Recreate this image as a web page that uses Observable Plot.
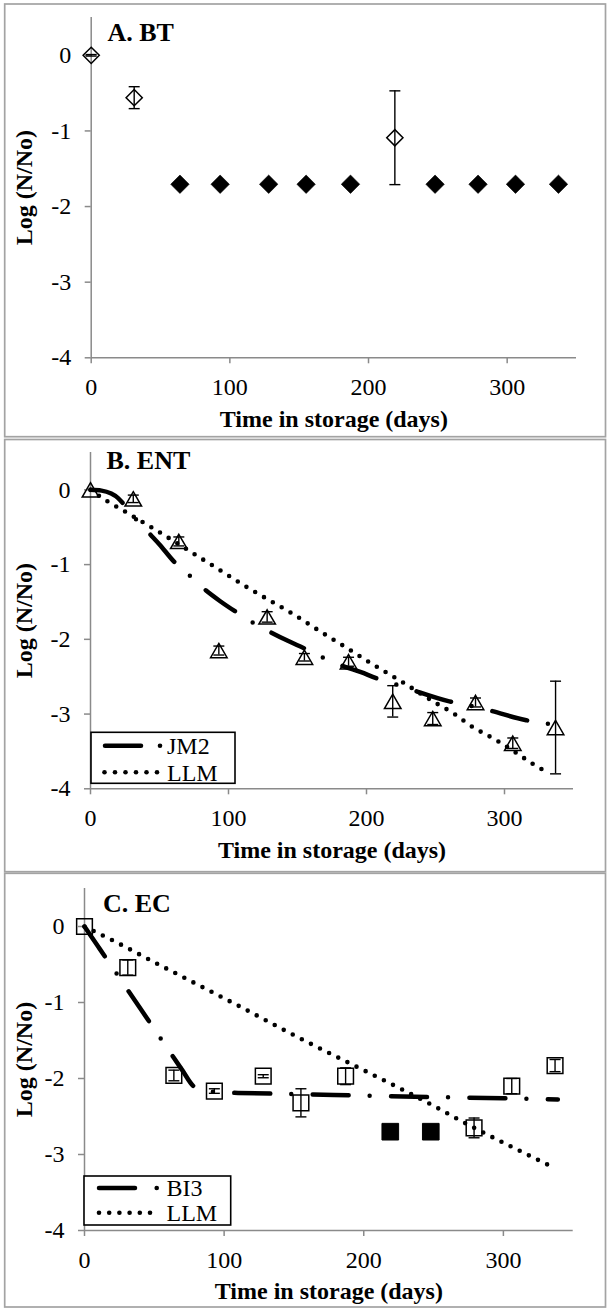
<!DOCTYPE html>
<html>
<head>
<meta charset="utf-8">
<script src="https://cdn.jsdelivr.net/npm/d3@7"></script>
<script src="https://cdn.jsdelivr.net/npm/@observablehq/plot@0.6"></script>
<style>
  body { margin: 0; background: #fff; }
  #page { position: relative; width: 610px; height: 1312px; overflow: hidden; background: #fff;
          font-family: "Liberation Serif", "Times New Roman", serif; }
  .panel { position: absolute; left: 0; }
  #overlay { position: absolute; left: 0; top: 0; pointer-events: none; }
</style>
</head>
<body>
<div id="page"></div>
<script>
// ---------------- data ----------------
const xTicks = [0, 100, 200, 300];
const yTicks = [0, -1, -2, -3, -4];

// Panel A: BT
const btDays = [0, 31, 219];
const btLog = [0, -0.56, -1.09];
const btErr = [0.01, 0.145, 0.62];
const btBelowDays = [64, 93, 128, 155, 187, 248, 279, 306, 337];
const btBelowLog = [-1.705, -1.705, -1.705, -1.705, -1.705, -1.705, -1.705, -1.705, -1.705];

// Panel B: ENT
const entDays = [0, 31, 64, 93, 128, 155, 187, 219, 248, 279, 306, 337];
const entLog = [0, -0.12, -0.69, -2.15, -1.70, -2.24, -2.30, -2.83, -3.06, -2.845, -3.39, -3.18];
const entErr = [0, 0.05, 0.06, 0.06, 0.07, 0.05, 0.06, 0.21, 0.08, 0.06, 0.07, 0.62];
const jm2Days = [0, 8, 15, 20, 24, 31, 43, 50, 60, 72, 82, 94, 106, 118, 130, 143, 156, 168, 182, 196, 207, 221, 233, 260, 273, 289, 315, 329, 337];
const jm2Log = [0, -0.01, -0.05, -0.11, -0.19, -0.35, -0.59, -0.73, -0.95, -1.15, -1.32, -1.49, -1.64, -1.78, -1.90, -2.02, -2.13, -2.24, -2.35, -2.44, -2.52, -2.60, -2.675, -2.83, -2.88, -2.95, -3.08, -3.12, -3.15];
const llmBDays = [0, 12, 25, 45, 71, 90, 115, 128, 144, 167, 187, 205, 225, 250, 263, 275, 295, 307, 320, 333];
const llmBLog = [0, -0.15, -0.29, -0.51, -0.81, -1.03, -1.32, -1.46, -1.63, -1.90, -2.13, -2.34, -2.56, -2.85, -2.99, -3.15, -3.36, -3.50, -3.66, -3.80];

// Panel C: EC
const ecDays = [0, 31, 64, 93, 128, 155, 187, 279, 306, 337];
const ecLog = [0, -0.54, -1.96, -2.165, -1.97, -2.32, -1.97, -2.65, -2.10, -1.83];
const ecErr = [0, 0.10, 0.07, 0.03, 0.02, 0.185, 0.11, 0.13, 0.10, 0.08];
const ecBelowDays = [219, 248];
const ecBelowLog = [-2.70, -2.70];
const bi3Days = [0, 10, 20, 30, 40, 50, 60, 70, 78, 85, 90, 100, 110, 150, 200, 250, 300, 339];
const bi3Log = [0, -0.27, -0.54, -0.81, -1.08, -1.35, -1.62, -1.89, -2.10, -2.155, -2.17, -2.185, -2.19, -2.205, -2.225, -2.245, -2.26, -2.275];
const llmCDays = [0, 21, 50, 80, 110, 150, 173, 190, 227, 250, 276, 305, 333];
const llmCLog = [0, -0.19, -0.47, -0.755, -1.04, -1.43, -1.645, -1.80, -2.14, -2.36, -2.62, -2.89, -3.145];

// ---------------- helpers ----------------
const zipPts = (xs, ys, es) => xs.map((x, i) => ({x, y: ys[i], e: es ? es[i] : 0}));
const capSymbol = { draw(ctx) { ctx.moveTo(-5.5, 0); ctx.lineTo(5.5, 0); } };
const FONT = '"Liberation Serif", "Times New Roman", serif';
const AXIS = "#8a8a8a";

const dashDot = "36,21,0,21.4";
const dotted = "0,10.2";

function errorMarks(pts, opts = {}) {
  const withErr = pts.filter(d => d.e > 0);
  return [
    Plot.ruleX(withErr, {x: "x", y1: d => d.y - d.e, y2: d => d.y + d.e, stroke: "black", strokeWidth: 1.4, ...opts}),
    Plot.dot(withErr, {x: "x", y: d => d.y - d.e, symbol: capSymbol, fill: "none", stroke: "black", strokeWidth: 1.4, ...opts}),
    Plot.dot(withErr, {x: "x", y: d => d.y + d.e, symbol: capSymbol, fill: "none", stroke: "black", strokeWidth: 1.4, ...opts})
  ];
}

function makePanel(cfg) {
  const {height, mt, mb, ml, mr, title, titleDx, titleDy, xLabelDy, marks} = cfg;
  return Plot.plot({
    width: 610,
    height,
    marginTop: mt, marginBottom: mb, marginLeft: ml, marginRight: mr,
    style: {fontFamily: FONT, fontSize: "24px", background: "transparent", overflow: "visible", color: "black"},
    x: {domain: [0, 350]},
    y: {domain: [-4, 0.5]},
    marks: [
      Plot.ruleX([0], {stroke: AXIS, strokeWidth: 1.5}),
      Plot.ruleY([-4], {stroke: AXIS, strokeWidth: 1.5}),
      Plot.axisX({ticks: xTicks, tickSize: 6, tickPadding: 14, stroke: AXIS, strokeWidth: 1.5, fill: "black",
                  fontSize: 24, label: null, tickFormat: d => String(d)}),
      Plot.axisY({ticks: yTicks, tickSize: 6, tickPadding: 14, stroke: AXIS, strokeWidth: 1.5, fill: "black",
                  fontSize: 24, label: null, tickFormat: d => String(d)}),
      ...marks,
      Plot.text([title], {text: d => d, frameAnchor: "top-left", dx: titleDx, dy: titleDy, textAnchor: "start",
                          lineAnchor: "middle", fontWeight: "bold", fontSize: 26, fill: "black"}),
      Plot.text(["Log (N/No)"], {text: d => d, frameAnchor: "left", rotate: -90, dx: 24.2 - ml, textAnchor: "middle",
                                 lineAnchor: "middle", fontWeight: "bold", fontSize: 24, fill: "black"}),
      Plot.text(["Time in storage (days)"], {text: d => d, frameAnchor: "bottom", dy: xLabelDy, textAnchor: "middle",
                                 lineAnchor: "middle", fontWeight: "bold", fontSize: 24, fill: "black"})
    ]
  });
}

const page = document.getElementById("page");
function place(svg, top) {
  const wrap = document.createElement("div");
  wrap.className = "panel";
  wrap.style.top = top + "px";
  wrap.appendChild(svg);
  page.appendChild(wrap);
}

// ---------------- Panel A ----------------
const btPts = zipPts(btDays, btLog, btErr);
const btBelow = zipPts(btBelowDays, btBelowLog);
place(makePanel({
  height: 437, mt: 17, mb: 79.7, ml: 90.7, mr: 34,
  title: "A. BT", titleDx: 16.3, titleDy: 15.3, xLabelDy: 61.7,
  marks: [
    ...errorMarks(btPts),
    Plot.dot(btPts, {x: "x", y: "y", symbol: "diamond2", r: 7.3, fill: "none", stroke: "black", strokeWidth: 1.5}),
    Plot.dot(btBelow, {x: "x", y: "y", symbol: "diamond2", r: 8.3, fill: "black", stroke: "black", strokeWidth: 0.6})
  ]
}), 0);

// ---------------- Panel B ----------------
const entPts = zipPts(entDays, entLog, entErr);
const jm2 = zipPts(jm2Days, jm2Log);
const llmB = zipPts(llmBDays, llmBLog);
place(makePanel({
  height: 437, mt: 15, mb: 85.7, ml: 90, mr: 37,
  title: "B. ENT", titleDx: 16, titleDy: 8, xLabelDy: 62,
  marks: [
    Plot.line(jm2, {x: "x", y: "y", curve: "monotone-x", stroke: "black", strokeWidth: 4.5,
                    strokeDasharray: dashDot, strokeLinecap: "round"}),
    Plot.line(llmB, {x: "x", y: "y", curve: "monotone-x", stroke: "black", strokeWidth: 4.6,
                     strokeDasharray: dotted, strokeLinecap: "round"}),
    ...errorMarks(entPts),
    Plot.dot(entPts, {x: "x", y: "y", symbol: "triangle2", r: 7.9, dy: 2.4, fill: "none", stroke: "black", strokeWidth: 1.5})
  ]
}), 437);

// ---------------- Panel C ----------------
const ecPts = zipPts(ecDays, ecLog, ecErr);
const ecBelow = zipPts(ecBelowDays, ecBelowLog);
const bi3 = zipPts(bi3Days, bi3Log);
const llmC = zipPts(llmCDays, llmCLog);
place(makePanel({
  height: 438, mt: 14, mb: 82, ml: 84, mr: 37.3,
  title: "C. EC", titleDx: 18.5, titleDy: 15, xLabelDy: 61,
  marks: [
    Plot.line(bi3, {x: "x", y: "y", curve: "monotone-x", stroke: "black", strokeWidth: 4.5,
                    strokeDasharray: dashDot, strokeLinecap: "round"}),
    Plot.line(llmC, {x: "x", y: "y", curve: "monotone-x", stroke: "black", strokeWidth: 4.6,
                     strokeDasharray: dotted, strokeLinecap: "round"}),
    ...errorMarks(ecPts),
    Plot.dot(ecPts, {x: "x", y: "y", symbol: "square2", r: 10, fill: "none", stroke: "black", strokeWidth: 1.5}),
    Plot.dot(ecBelow, {x: "x", y: "y", symbol: "square2", r: 10.6, fill: "black", stroke: "black", strokeWidth: 1})
  ]
}), 874);

// ---------------- frames & legends (overlay) ----------------
const ov = d3.select(page).append("svg").attr("id", "overlay").attr("width", 610).attr("height", 1312);
const frames = [
  {x: 4.7, y: 4, w: 600.8, h: 432.7},
  {x: 4.7, y: 439.5, w: 600.8, h: 432.2},
  {x: 4.7, y: 873.3, w: 600.8, h: 433.7}
];
ov.selectAll("rect.frame").data(frames).join("rect").attr("class", "frame")
  .attr("x", d => d.x).attr("y", d => d.y).attr("width", d => d.w).attr("height", d => d.h)
  .attr("fill", "none").attr("stroke", "#a3a3a3").attr("stroke-width", 1.7);

function legend(g, box, names) {
  const {x, y, w, h, r1, r2, dashX1, dashX2, dotX, textX, dots0, dotsStep} = box;
  g.append("rect").attr("x", x).attr("y", y).attr("width", w).attr("height", h)
    .attr("fill", "white").attr("stroke", "black").attr("stroke-width", 1.6);
  g.append("line").attr("x1", dashX1).attr("x2", dashX2).attr("y1", r1).attr("y2", r1)
    .attr("stroke", "black").attr("stroke-width", 4.5).attr("stroke-linecap", "round");
  g.append("circle").attr("cx", dotX).attr("cy", r1).attr("r", 2.3).attr("fill", "black");
  g.selectAll("circle.ld").data(d3.range(6)).join("circle").attr("class", "ld")
    .attr("cx", i => dots0 + i * dotsStep).attr("cy", r2).attr("r", 2.3).attr("fill", "black");
  g.selectAll("text").data(names).join("text")
    .attr("x", textX).attr("y", (d, i) => (i === 0 ? r1 : r2) + 8.3)
    .attr("font-family", FONT).attr("font-size", 24).attr("fill", "black").text(d => d);
}
legend(ov.append("g"), {x: 91, y: 732.3, w: 144, h: 51, r1: 745.7, r2: 772.3,
  dashX1: 105, dashX2: 141, dotX: 160, textX: 167, dots0: 104.5, dotsStep: 10.5}, ["JM2", "LLM"]);
legend(ov.append("g"), {x: 84, y: 1176, w: 146.7, h: 49, r1: 1188, r2: 1212.7,
  dashX1: 99, dashX2: 135, dotX: 156.7, textX: 166.5, dots0: 99, dotsStep: 10.2}, ["BI3", "LLM"]);
</script>
</body>
</html>
